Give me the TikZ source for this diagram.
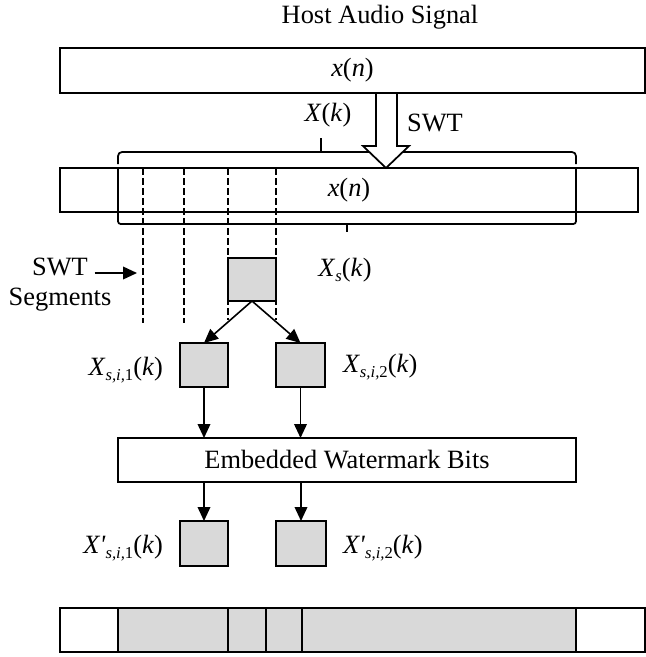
\documentclass[tikz,border=0pt]{standalone}
\usepackage{fontspec}
\setmainfont{Liberation Serif}
\usetikzlibrary{arrows.meta}
\definecolor{boxgray}{HTML}{D9D9D9}
\newcommand\sbs[1]{\raisebox{-0.4ex}{\fontsize{12.5pt}{12.5pt}\selectfont #1}}
\begin{document}
\begin{tikzpicture}[x=0.75pt,y=-0.75pt,
  every node/.style={font=\fontsize{19.8pt}{22pt}\selectfont, inner sep=0pt, outer sep=0pt},
  blk/.style={draw, line width=1.3pt},
  sq/.style={draw, line width=1.3pt, fill=boxgray},
  arr/.style={line width=1.2pt, -{Triangle[length=10.5pt,width=9.5pt]}},
  dsh/.style={line width=1pt, dash pattern=on 5pt off 2.5pt},
  ln/.style={line width=1.3pt}]
\useasboundingbox (0,0) rectangle (646,657);

\node (title) at (380,17) {Host Audio Signal};

% braces
\draw[ln, rounded corners=3pt] (118,164) |- (321,152) -| (576,164);
\draw[ln] (321,152) -- (321,138);
\draw[ln] (118,168) -- (118,212);
\draw[ln] (576,168) -- (576,212);
\draw[ln, rounded corners=2pt] (118,212) |- (347,224) -| (576,212);
\draw[ln] (347,224) -- (347,232);

% dashed segment lines
\draw[dsh] (143,168) -- (143,323);
\draw[dsh] (184,168) -- (184,323);
\draw[dsh] (228,168) -- (228,320);
\draw[dsh] (276,168) -- (276,320);

% hollow SWT arrow
\draw[ln, fill=white, line join=miter] (376,93) -- (376,146) -- (363,146) -- (386,168) -- (409,146) -- (397,146) -- (397,93);

\node[blk, minimum width=438.75pt, minimum height=33.75pt] (top) at (352.5,70.5) {\textit{x}(\textit{n})};
\node[blk, minimum width=433.5pt, minimum height=33pt] (mid) at (349,190) {\textit{x}(\textit{n})};

\node (xk) at (328,115) {\textit{X}(\textit{k})};
\node (swtl) at (435,123) {SWT};

% SWT segments label
\node (swt) at (60,267) {SWT};
\node (seg) at (60,300) {Segments};
\coordinate (segtip) at (137,273);
\draw[arr] (swt.east |- segtip) ++(5pt,0) -- (segtip);

% Xs box
\node[sq, minimum width=36pt, minimum height=32.25pt] (xs) at (252,279.5) {};
\node (xsl) at (345,270) {\textit{X}\sbs{\textit{s}}(\textit{k})};

\node[sq, minimum width=36pt, minimum height=33pt] (b1) at (204,365) {};
\node[sq, minimum width=36.75pt, minimum height=33pt] (b2) at (300.5,365) {};
\draw[arr] (xs.south) -- (b1.north);
\draw[arr] (xs.south) -- (b2.north);
\node[anchor=east] (b1l) at (163,370) {\textit{X}\sbs{\textit{s,i,}1}(\textit{k})};
\node[anchor=west] (b2l) at (343,367) {\textit{X}\sbs{\textit{s,i,}2}(\textit{k})};

\node[blk, minimum width=343.5pt, minimum height=33pt] (ewb) at (347,460) {Embedded Watermark Bits};
\draw[arr] (b1.south) -- (b1.south |- ewb.north);
\draw[arr] (b2.south) -- (b2.south |- ewb.north);

\node[sq, minimum width=36pt, minimum height=33.75pt] (b3) at (204,543.5) {};
\node[sq, minimum width=37.5pt, minimum height=33.75pt] (b4) at (301,543.5) {};
\draw[arr] (b3.north |- ewb.south) -- (b3.north);
\draw[arr] (b4.north |- ewb.south) -- (b4.north);
\node[anchor=east] (b3l) at (163,548) {\textit{X\textquotesingle}\sbs{\textit{s,i,}1}(\textit{k})};
\node[anchor=west] (b4l) at (343,548) {\textit{X\textquotesingle}\sbs{\textit{s,i,}2}(\textit{k})};

% bottom (watermarked) signal
\fill[boxgray] (118,608) rectangle (576,652);
\node[blk, minimum width=438.75pt, minimum height=33pt] (bot) at (352.5,630) {};
\foreach \xx in {118,228,266,302,576} \draw[ln] (\xx,608) -- (\xx,652);
\end{tikzpicture}
\end{document}
